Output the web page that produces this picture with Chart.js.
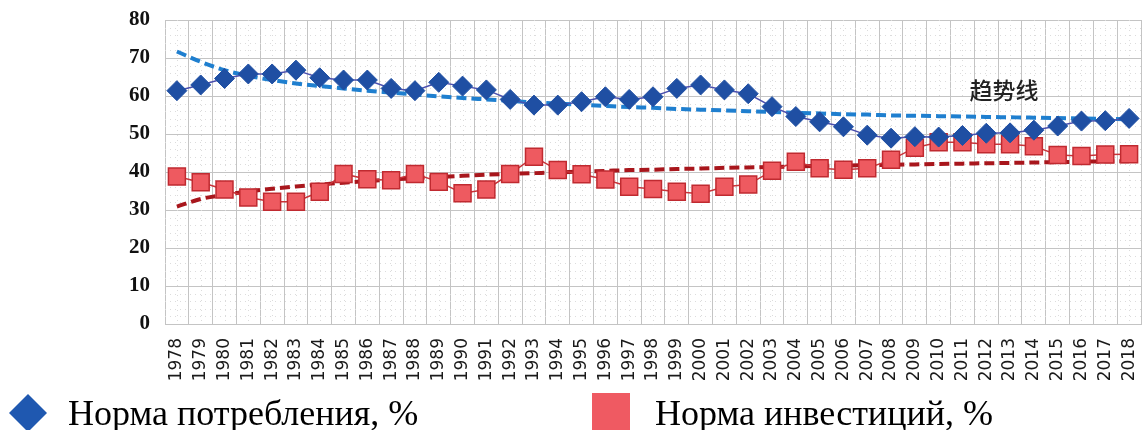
<!DOCTYPE html>
<html>
<head>
<meta charset="utf-8">
<script src="https://cdn.jsdelivr.net/npm/chart.js@4/dist/chart.umd.min.js"></script>
<style>
  html, body { margin: 0; padding: 0; background: #ffffff; }
  #wrap { width: 1143px; height: 430px; position: relative; }
</style>
</head>
<body>
<div id="wrap"><canvas id="c" width="1143" height="430"></canvas></div>
<script>
// ---------- data ----------
const years = ['1978','1979','1980','1981','1982','1983','1984','1985','1986','1987',
  '1988','1989','1990','1991','1992','1993','1994','1995','1996','1997',
  '1998','1999','2000','2001','2002','2003','2004','2005','2006','2007',
  '2008','2009','2010','2011','2012','2013','2014','2015','2016','2017','2018'];

const consumption = [61.4, 62.9, 64.6, 65.8, 65.8, 66.8, 64.8, 64.2, 64.2, 62.0,
  61.4, 63.6, 62.6, 61.6, 59.1, 57.6, 57.6, 58.5, 59.8, 59.1,
  59.8, 62.0, 62.9, 61.6, 60.6, 57.2, 54.6, 53.2, 51.9, 49.7,
  48.9, 49.3, 49.2, 49.6, 50.2, 50.3, 51.0, 52.1, 53.4, 53.5, 54.1];

const investment = [38.8, 37.3, 35.4, 33.3, 32.2, 32.2, 34.8, 39.5, 38.1, 37.8,
  39.5, 37.4, 34.4, 35.4, 39.5, 44.0, 40.5, 39.4, 38.0, 36.1,
  35.5, 34.8, 34.3, 36.1, 36.7, 40.3, 42.7, 41.0, 40.6, 41.0,
  43.2, 46.4, 47.8, 47.8, 47.3, 47.3, 46.8, 44.5, 44.2, 44.6, 44.7];

const trendConsumption = [71.7, 69.0, 66.8, 65.3, 64.2, 63.3, 62.6, 62.0, 61.4, 60.9,
  60.4, 59.9, 59.5, 59.1, 58.7, 58.3, 58.0, 57.7, 57.4, 57.1,
  56.9, 56.6, 56.4, 56.2, 56.0, 55.8, 55.6, 55.4, 55.2, 55.1,
  54.9, 54.8, 54.7, 54.6, 54.5, 54.4, 54.3, 54.2, 54.1, 54.0, 53.9];

const trendInvestment = [30.9, 32.9, 34.0, 34.9, 35.6, 36.2, 36.7, 37.2, 37.6, 38.0,
  38.4, 38.7, 39.0, 39.3, 39.5, 39.7, 39.9, 40.1, 40.3, 40.5,
  40.6, 40.8, 40.9, 41.1, 41.2, 41.3, 41.5, 41.6, 41.7, 41.8,
  41.9, 42.0, 42.1, 42.2, 42.3, 42.4, 42.5, 42.6, 42.7, 42.8, 42.8];

const yTicks = [0, 10, 20, 30, 40, 50, 60, 70, 80];
const seriesLabels = ['Норма потребления, %', 'Норма инвестиций, %'];
const trendLabel = '趋势线';
const trendLabelAt = { index: 34.75, value: 61.6 };

// ---------- plugins ----------
const minorGrid = {
  id: 'minorGrid',
  beforeDatasetsDraw(chart) {
    const { ctx, chartArea: a, scales: { x, y } } = chart;
    ctx.save();
    ctx.strokeStyle = '#dcdcdc';
    ctx.lineWidth = 1;
    ctx.setLineDash([1, 4]);
    for (let v = 2; v < 80; v += 2) {
      if (v % 10 === 0) continue;
      const py = Math.round(y.getPixelForValue(v)) + 0.5;
      ctx.beginPath(); ctx.moveTo(a.left, py); ctx.lineTo(a.right, py); ctx.stroke();
    }
    for (let i = 0; i < years.length; i++) {
      const px = Math.round(x.getPixelForValue(i)) + 0.5;
      ctx.beginPath(); ctx.moveTo(px, a.top); ctx.lineTo(px, a.bottom); ctx.stroke();
    }
    ctx.restore();
  }
};

const extras = {
  id: 'extras',
  afterDraw(chart) {
    const { ctx, scales: { x, y } } = chart;
    ctx.save();
    // trend label
    ctx.font = '500 23px "Noto Sans CJK SC"';
    ctx.fillStyle = '#222';
    ctx.textAlign = 'center';
    ctx.textBaseline = 'middle';
    ctx.fillText(trendLabel, x.getPixelForDecimal((trendLabelAt.index + 0.5) / years.length), y.getPixelForValue(trendLabelAt.value));
    // legend
    ctx.textAlign = 'left';
    ctx.textBaseline = 'alphabetic';
    ctx.font = '36px "Liberation Serif"';
    // diamond
    ctx.fillStyle = '#1f58b0';
    ctx.beginPath();
    ctx.moveTo(28, 394); ctx.lineTo(47, 413); ctx.lineTo(28, 432); ctx.lineTo(9, 413);
    ctx.closePath(); ctx.fill();
    ctx.fillStyle = '#000';
    ctx.fillText(seriesLabels[0], 68, 425);
    // square
    ctx.fillStyle = '#ef5a62';
    ctx.fillRect(592, 393, 38, 38);
    ctx.fillStyle = '#000';
    ctx.fillText(seriesLabels[1], 655, 425);
    ctx.restore();
  }
};

// ---------- chart ----------
new Chart(document.getElementById('c'), {
  type: 'line',
  data: {
    labels: years,
    datasets: [
      {
        label: seriesLabels[0],
        data: consumption,
        borderColor: '#4b4fae',
        borderWidth: 1.5,
        backgroundColor: '#1f4fa3',
        pointStyle: 'rectRot',
        pointRadius: 10,
        pointBackgroundColor: '#1f4fa3',
        pointBorderColor: '#1f4fa3',
        pointBorderWidth: 1,
        tension: 0
      },
      {
        label: seriesLabels[1],
        data: investment,
        borderColor: '#c9343a',
        borderWidth: 1.5,
        backgroundColor: '#ee5a60',
        pointStyle: 'rect',
        pointRadius: 12,
        pointBackgroundColor: '#ee5a60',
        pointBorderColor: '#c02a30',
        pointBorderWidth: 1.5,
        tension: 0
      },
      {
        label: 'trend1',
        data: trendConsumption,
        borderColor: '#1f7fcf',
        borderWidth: 4,
        borderDash: [10, 5],
        pointRadius: 0,
        cubicInterpolationMode: 'monotone'
      },
      {
        label: 'trend2',
        data: trendInvestment,
        borderColor: '#a8161c',
        borderWidth: 4,
        borderDash: [10, 5],
        pointRadius: 0,
        cubicInterpolationMode: 'monotone'
      }
    ]
  },
  options: {
    responsive: false,
    animation: false,
    devicePixelRatio: 1,
    layout: { autoPadding: false, padding: { top: 20, right: 2, left: 0, bottom: 0 } },
    plugins: { legend: { display: false }, tooltip: { enabled: false } },
    scales: {
      x: {
        type: 'category',
        offset: true,
        grid: { offset: true, color: '#c4c4c4', lineWidth: 1, drawTicks: false },
        border: { color: '#c4c4c4' },
        ticks: {
          autoSkip: false, minRotation: 90, maxRotation: 90, padding: 14,
          color: '#1a1a1a', font: { family: 'DejaVu Sans', size: 17 }
        },
        afterFit(scale) { scale.height = 106; scale.paddingLeft = 0; scale.paddingRight = 0; }
      },
      y: {
        min: 0, max: 80,
        afterBuildTicks(scale) { scale.ticks = yTicks.map(v => ({ value: v })); },
        grid: { color: '#c4c4c4', lineWidth: 1, drawTicks: false },
        border: { color: '#c4c4c4' },
        ticks: {
          padding: 15, color: '#111',
          font: { family: 'Liberation Serif', size: 21, weight: 'bold' }
        },
        afterFit(scale) { scale.width = 165; scale.paddingTop = 0; scale.paddingBottom = 0; }
      }
    }
  },
  plugins: [minorGrid, extras]
});
</script>
</body>
</html>
